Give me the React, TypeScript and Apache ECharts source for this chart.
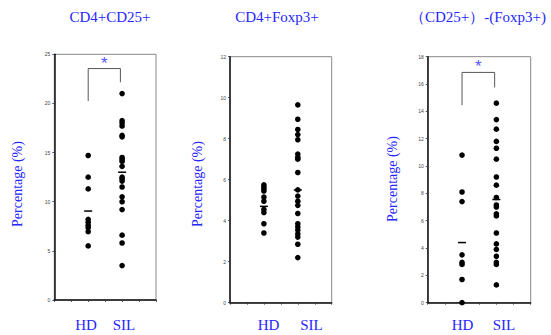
import React, { useEffect, useRef } from "react";
import * as echarts from "echarts";

const groups = ["HD", "SIL"];
const groupX = [2, 4];

const titles = ["CD4+CD25+", "CD4+Foxp3+", "（CD25+）-(Foxp3+)"];
const yMax = [25, 12, 18];
const yInterval = [5, 2, 2];

const p1HD = [14.7, 12.5, 11.3, 8.2, 7.9, 7.6, 7.35, 6.95, 5.5];
const p1SIL = [21.0, 18.25, 18.0, 17.7, 16.75, 16.6, 14.5, 14.3, 14.1, 13.6, 12.5, 12.3, 12.1, 11.5, 10.5, 10.0, 9.2, 6.6, 5.8, 3.5];
const p2HD = [5.75, 5.65, 5.55, 5.45, 5.15, 4.95, 4.55, 4.4, 3.85, 3.4];
const p2SIL = [9.65, 8.95, 8.45, 8.2, 7.95, 7.25, 7.1, 7.0, 6.35, 5.5, 5.2, 4.95, 4.75, 4.35, 3.85, 3.7, 3.55, 3.35, 3.2, 2.85, 2.2];
const p3HD = [10.8, 8.1, 7.4, 3.5, 2.95, 2.8, 1.7, 0];
const p3SIL = [14.6, 13.4, 12.7, 11.8, 11.3, 10.5, 9.2, 8.6, 7.7, 7.15, 7.0, 6.5, 6.35, 5.1, 4.3, 3.9, 3.4, 2.95, 2.8, 1.3];

const panelData = [
  [p1HD, p1SIL],
  [p2HD, p2SIL],
  [p3HD, p3SIL],
];
const groupMeans = [
  [9.05, 13.0],
  [4.7, 5.5],
  [4.4, 7.55],
];
// significance brackets: [top, leftBottom, rightBottom] or null
const brackets = [
  [23.55, 20.25, 22.15],
  null,
  [16.85, 14.45, 15.75],
];

const BLUE = "#2626ff";
const SERIF = "'Liberation Serif', 'Times New Roman', serif";

const grids = [
  { left: 54.3, top: 54.3, width: 101.7, height: 245.7 },
  { left: 230, top: 56.7, width: 101.7, height: 246 },
  { left: 427.7, top: 56.7, width: 103, height: 246 },
];
const titlePos = [
  [110, 17],
  [277, 17],
  [478, 17],
];
const yNamePos = [
  [17, 184],
  [197, 184],
  [392, 179],
];
const xLabelPos = [
  [
    [86, 325],
    [124, 325],
  ],
  [
    [268.5, 325],
    [311.5, 325],
  ],
  [
    [462.5, 325],
    [504, 325],
  ],
];

export default function App() {
  const ref = useRef<HTMLDivElement>(null);
  useEffect(() => {
    if (!ref.current) return;
    const chart = echarts.init(ref.current, null, { renderer: "svg" });
    const xAxis: any[] = [];
    const yAxis: any[] = [];
    const series: any[] = [];
    const graphic: any[] = [];
    grids.forEach((g, i) => {
      xAxis.push({
        gridIndex: i,
        type: "value",
        min: 0,
        max: 6,
        interval: 1,
        axisLine: { lineStyle: { color: "#111", width: 1.5 } },
        axisTick: { show: true, length: 2, lineStyle: { color: "#333", width: 0.8 } },
        axisLabel: { show: false },
        splitLine: { show: false },
      });
      yAxis.push({
        gridIndex: i,
        type: "value",
        min: 0,
        max: yMax[i],
        interval: yInterval[i],
        axisLine: { show: true, lineStyle: { color: "#111", width: 1.5 } },
        axisTick: { show: true, length: 2, lineStyle: { color: "#333", width: 0.8 } },
        axisLabel: { fontSize: 5, color: "#444", margin: 4, fontFamily: "Arial" },
        splitLine: { show: false },
      });
      panelData[i].forEach((vals, gi) => {
        series.push({
          type: "scatter",
          xAxisIndex: i,
          yAxisIndex: i,
          symbol: "circle",
          symbolSize: 5.6,
          itemStyle: { color: "#000", opacity: 1 },
          data: vals.map((v) => [groupX[gi], v]),
          z: 3,
        });
      });
      series.push({
        type: "scatter",
        xAxisIndex: i,
        yAxisIndex: i,
        symbol: "rect",
        symbolSize: [8, 1.5],
        itemStyle: { color: "#000", opacity: 1 },
        data: groupMeans[i].map((m, gi) => [groupX[gi], m]),
        z: 4,
      });
      const b = brackets[i];
      if (b) {
        series.push({
          type: "line",
          xAxisIndex: i,
          yAxisIndex: i,
          showSymbol: false,
          symbol: "none",
          lineStyle: { color: "#555", width: 1 },
          data: [
            [groupX[0], b[1]],
            [groupX[0], b[0]],
            [groupX[1] - 0.1, b[0]],
            [groupX[1] - 0.1, b[2]],
          ],
          z: 2,
        });
        series.push({
          type: "scatter",
          xAxisIndex: i,
          yAxisIndex: i,
          symbolSize: 0,
          data: [[(groupX[0] + groupX[1]) / 2 - 0.05, b[0]]],
          label: {
            show: true,
            position: "top",
            distance: -3,
            formatter: "*",
            color: BLUE,
            fontSize: 17,
            fontFamily: "Arial",
          },
        });
      }
      graphic.push({
        type: "text",
        x: titlePos[i][0],
        y: titlePos[i][1],
        style: {
          text: titles[i],
          align: "center",
          verticalAlign: "middle",
          fill: BLUE,
          font: `15px ${SERIF}`,
        },
      });
      graphic.push({
        type: "text",
        x: yNamePos[i][0],
        y: yNamePos[i][1],
        rotation: Math.PI / 2,
        style: {
          text: "Percentage (%)",
          align: "center",
          verticalAlign: "middle",
          fill: BLUE,
          font: `14px ${SERIF}`,
        },
      });
      groups.forEach((gName, gi) => {
        graphic.push({
          type: "text",
          x: xLabelPos[i][gi][0],
          y: xLabelPos[i][gi][1],
          style: {
            text: gName,
            align: "center",
            verticalAlign: "middle",
            fill: BLUE,
            font: `15px ${SERIF}`,
          },
        });
      });
    });
    chart.setOption({
      animation: false,
      backgroundColor: "#fff",
      grid: grids.map((g) => ({
        ...g,
        show: true,
        borderColor: "#888",
        borderWidth: 1,
        backgroundColor: "transparent",
      })),
      xAxis,
      yAxis,
      series,
      graphic,
    });
    return () => chart.dispose();
  }, []);
  return (
    <div
      ref={ref}
      style={{ position: "fixed", left: 0, top: 0, width: 551, height: 335, background: "#fff" }}
    />
  );
}
